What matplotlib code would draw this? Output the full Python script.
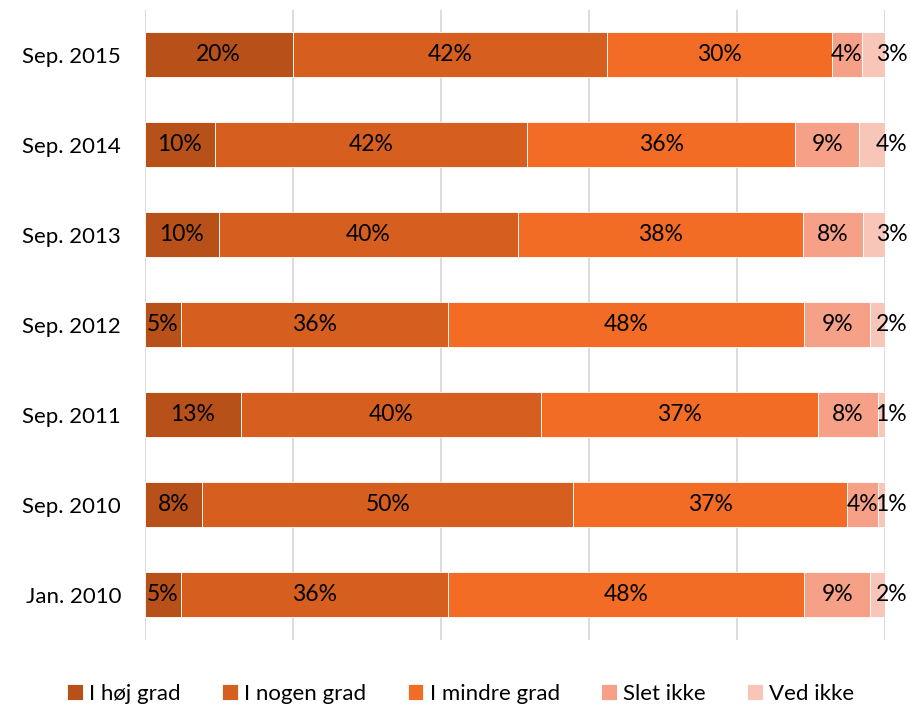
import matplotlib
matplotlib.use("agg")
import matplotlib.pyplot as plt
import numpy as np

CATEGORIES = ["Jan. 2010", "Sep. 2010", "Sep. 2011", "Sep. 2012",
              "Sep. 2013", "Sep. 2014", "Sep. 2015"]
SERIES     = ["I høj grad", "I nogen grad", "I mindre grad", "Slet ikke", "Ved ikke"]

# values in percent, one list per series (order follows CATEGORIES)
HOJ    = [4.9, 7.8, 13.0, 4.9, 10.0, 9.5, 20.0]
NOGEN  = [36.1, 50.1, 40.5, 36.1, 40.4, 42.2, 42.4]
MINDRE = [48.1, 37.0, 37.4, 48.1, 38.5, 36.2, 30.4]
SLET   = [8.9, 4.1, 8.1, 8.9, 8.1, 8.6, 4.1]
VED    = [2.0, 1.0, 1.0, 2.0, 3.0, 3.5, 3.1]

COLORS = ["#B8501A", "#D65E1E", "#F26C26", "#F5A087", "#F8C5B9"]

plt.rcParams["font.family"] = ["Lato", "DejaVu Sans"]

fig = plt.figure(figsize=(9.1, 7.06), dpi=100)
ax = fig.add_axes([0.159, 0.0935, 0.8135, 0.8925])

y = np.arange(len(CATEGORIES))
left = np.zeros(len(CATEGORIES))
all_series = [HOJ, NOGEN, MINDRE, SLET, VED]
for k, (name, vals, col) in enumerate(zip(SERIES, all_series, COLORS)):
    vals = np.array(vals)
    ax.barh(y, vals, left=left, height=0.5, color=col, edgecolor="white",
            linewidth=0.6, label=name, zorder=3)
    for yi, l, v in zip(y, left, vals):
        if k == len(SERIES) - 1:
            # last labels are pushed inside the chart's right edge
            ax.text(103.0, yi, f"{v:.0f}%", ha="right", va="center",
                    fontsize=16.5, color="black", zorder=4, clip_on=False)
        else:
            ax.text(l + v / 2, yi, f"{v:.0f}%", ha="center", va="center",
                    fontsize=16.5, color="black", zorder=4, clip_on=False)
    left += vals

ax.set_xlim(0, 100)
ax.set_ylim(-0.5, 6.5)
ax.set_xticks(np.arange(0, 101, 20))
ax.set_xticklabels([])
ax.tick_params(axis="x", length=0)
ax.tick_params(axis="y", length=0, labelsize=16, pad=17)
ax.set_yticks(y)
ax.set_yticklabels(CATEGORIES)
ax.grid(axis="x", color="#D9D9D9", linewidth=1.3, zorder=0)
for s in ax.spines.values():
    s.set_visible(False)

ax.legend(loc="center", bbox_to_anchor=(0.427, -0.085), ncol=5, frameon=False,
          fontsize=16, handlelength=0.7, handleheight=0.7, handletextpad=0.3,
          columnspacing=1.85)

fig.savefig("out.png", dpi=100)
